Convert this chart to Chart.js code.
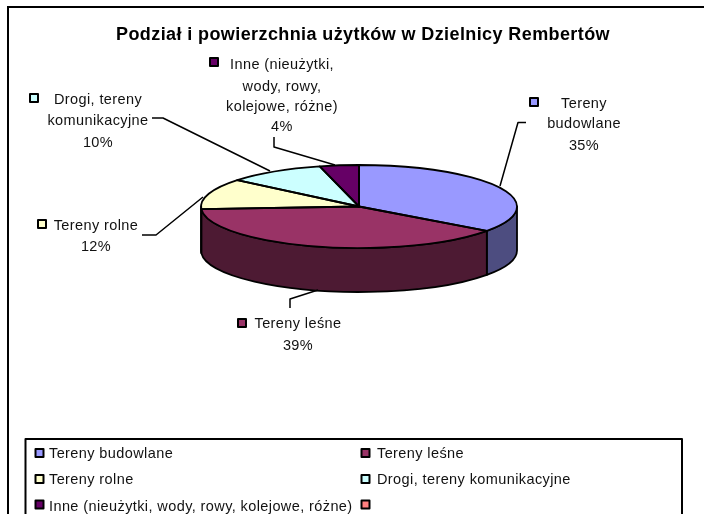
<!DOCTYPE html>
<html><head><meta charset="utf-8">
<style>html,body{margin:0;padding:0;background:#fff}canvas{display:block}</style>
<script src="https://cdn.jsdelivr.net/npm/chart.js@4"></script>
</head><body><canvas id="c" width="704" height="514"></canvas>
<script>
const titleText = 'Podział i powierzchnia użytków w Dzielnicy Rembertów';
const categories = ['Tereny budowlane','Tereny leśne','Tereny rolne','Drogi, tereny komunikacyjne','Inne (nieużytki, wody, rowy, kolejowe, różne)',''];
const shares = [35,39,12,10,4,0];
const topColors = ['#9999FF','#993366','#FFFFCC','#CCFFFF','#660066','#FF8080'];
const sideColors = ['#4D4D80','#4D1A33','#808066','#668080','#330033','#804040'];
const labelLines = [['Tereny','budowlane'],['Tereny leśne'],['Tereny rolne'],['Drogi, tereny','komunikacyjne'],['Inne (nieużytki,','wody, rowy,','kolejowe, różne)']];

const FONT = '"Liberation Sans", Arial, sans-serif';
const PIE = {x:359, y:206.5, squash:41.5/158, depth:44};
const labelLayout = [
  {x:584, ys:[104,124,146], key:[534,102]},
  {x:298, ys:[324,346], key:[242,323]},
  {x:96,  ys:[226,247], key:[42,224]},
  {x:98,  ys:[100,121,143], key:[34,98]},
  {x:282, ys:[65,87,107,127], key:[214,62]}
];
const leaders = [
  [[526,122.5],[518,122.5],[500,186]],
  [[290,308],[290,299],[318,290]],
  [[142,235],[156,235],[203,197]],
  [[152,118],[163,118],[270,171]],
  [[274,137],[274,147],[335,165]]
];
const legendBox = {l:25.5,t:439,r:682,b:530};
const legendCols = [{key:39.5,text:49},{key:365.5,text:377}];
const legendRows = [453.5,480,507];
const legendKeyRows = [453,479,504.5];

function keyBox(ctx,cx,cy,color){
  ctx.fillStyle=color; ctx.strokeStyle='#000'; ctx.lineWidth=2;
  ctx.fillRect(cx-4,cy-4,8,8); ctx.strokeRect(cx-4,cy-4,8,8);
}
const pie3d = {
  id:'pie3d',
  beforeDraw(chart){ chart.ctx.letterSpacing='0.4px'; },
  beforeDatasetsDraw(chart){
    const ctx=chart.ctx, arcs=chart.getDatasetMeta(0).data;
    const rx=arcs[0].outerRadius, ry=rx*PIE.squash;
    ctx.save(); ctx.strokeStyle='#000'; ctx.lineWidth=2; ctx.strokeRect(8,7,720,540); ctx.restore();
    ctx.save(); ctx.lineWidth=1.8; ctx.strokeStyle='#000'; ctx.lineJoin='round';
    arcs.forEach((a,i)=>{
      const s=Math.max(a.startAngle,0), e=Math.min(a.endAngle,Math.PI);
      if(e<=s) return;
      ctx.beginPath();
      ctx.ellipse(PIE.x,PIE.y,rx,ry,0,s,e);
      ctx.ellipse(PIE.x,PIE.y+PIE.depth,rx,ry,0,e,s,true);
      ctx.closePath();
      ctx.fillStyle=sideColors[i]; ctx.fill(); ctx.stroke();
    });
    ctx.restore();
    ctx.save();
    ctx.translate(PIE.x,PIE.y); ctx.scale(1,PIE.squash); ctx.translate(-arcs[0].x,-arcs[0].y);
  },
  afterDatasetsDraw(chart){
    const ctx=chart.ctx, arcs=chart.getDatasetMeta(0).data;
    ctx.restore();
    const rx=arcs[0].outerRadius, ry=rx*PIE.squash;
    ctx.save(); ctx.lineWidth=1.8; ctx.strokeStyle='#000'; ctx.lineJoin='round';
    arcs.forEach(a=>{
      if(a.endAngle-a.startAngle<=0) return;
      ctx.beginPath(); ctx.moveTo(PIE.x,PIE.y);
      ctx.ellipse(PIE.x,PIE.y,rx,ry,0,a.startAngle,a.endAngle);
      ctx.closePath(); ctx.stroke();
    });
    ctx.lineWidth=1.5;
    leaders.forEach(p=>{ ctx.beginPath(); p.forEach((q,i)=> i?ctx.lineTo(q[0],q[1]):ctx.moveTo(q[0],q[1])); ctx.stroke(); });
    const total=chart.data.datasets[0].data.reduce((x,y)=>x+y,0);
    ctx.font='14.5px '+FONT; ctx.textBaseline='middle'; ctx.textAlign='center';
    labelLines.forEach((ls,i)=>{
      const L=labelLayout[i], v=chart.data.datasets[0].data[i];
      [...ls,Math.round(v/total*100)+'%'].forEach((t,j)=>{ ctx.fillStyle='#111'; ctx.fillText(t,L.x,L.ys[j]); });
      keyBox(ctx,L.key[0],L.key[1],topColors[i]);
    });
    const B=legendBox;
    ctx.fillStyle='#fff'; ctx.fillRect(B.l,B.t,B.r-B.l,B.b-B.t);
    ctx.strokeStyle='#000'; ctx.lineWidth=2; ctx.strokeRect(B.l,B.t,B.r-B.l,B.b-B.t);
    ctx.textAlign='left';
    chart.data.labels.forEach((t,i)=>{
      const c=legendCols[i%2], r=Math.floor(i/2);
      keyBox(ctx,c.key,legendKeyRows[r],topColors[i]);
      if(t){ ctx.fillStyle='#111'; ctx.fillText(t,c.text,legendRows[r]); }
    });
    ctx.restore();
  }
};
new Chart(document.getElementById('c'),{
  type:'pie',
  data:{labels:categories,datasets:[{data:shares,backgroundColor:topColors,borderWidth:0,radius:158,clip:false}]},
  options:{
    responsive:false,animation:false,
    layout:{padding:{left:22,top:24}},
    plugins:{
      legend:{display:false},tooltip:{enabled:false},
      title:{display:true,text:titleText,fullSize:false,color:'#000',padding:0,font:{family:FONT,size:18,weight:'bold'}}
    }
  },
  plugins:[pie3d]
});
</script></body></html>
